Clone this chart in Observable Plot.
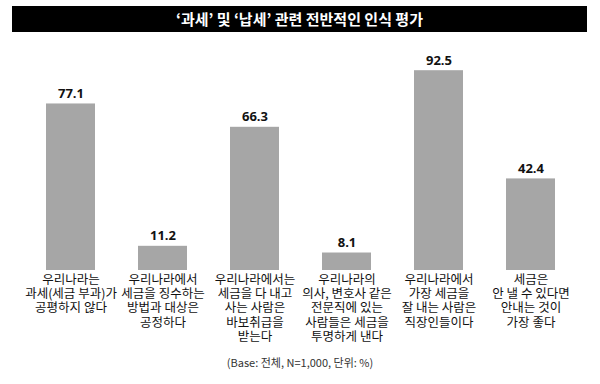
<!DOCTYPE html>
<html>
<head>
<meta charset="utf-8">
<script src="https://cdn.jsdelivr.net/npm/d3@7"></script>
<script src="https://cdn.jsdelivr.net/npm/@observablehq/plot@0.6"></script>
<style>
  html, body { margin: 0; padding: 0; background: #fff; }
  body { width: 600px; height: 384px; overflow: hidden; font-family: "Noto Sans CJK KR", "Noto Sans", sans-serif; }
  #title { margin: 6px 13px 0 12px; height: 26px; background: #000; color: #fff; font-weight: bold; font-size: 15px; line-height: 26px; text-align: center; }
  #chart svg { display: block; }
  #caption { height: 20px; line-height: 20px; font-size: 11px; color: #333; text-align: center; }
</style>
</head>
<body>
<div id="title">‘과세’ 및 ‘납세’ 관련 전반적인 인식 평가</div>
<div id="chart"></div>
<div id="caption">(Base: 전체, N=1,000, 단위: %)</div>
<script>
const categories = [
  "우리나라는\n과세(세금 부과)가\n공평하지 않다",
  "우리나라에서\n세금을 징수하는\n방법과 대상은\n공정하다",
  "우리나라에서는\n세금을 다 내고\n사는 사람은\n바보취급을\n받는다",
  "우리나라의\n의사, 변호사 같은\n전문직에 있는\n사람들은 세금을\n투명하게 낸다",
  "우리나라에서\n가장 세금을\n잘 내는 사람은\n직장인들이다",
  "세금은\n안 낼 수 있다면\n안내는 것이\n가장 좋다"
];
const values = [77.1, 11.2, 66.3, 8.1, 92.5, 42.4];

const data = categories.map((c, i) => ({category: c, value: values[i]}));

const chart = Plot.plot({
  width: 600,
  height: 320,
  marginTop: 22,
  marginBottom: 82,
  marginLeft: 0,
  marginRight: 0,
  style: {fontFamily: '"Noto Sans CJK KR", sans-serif', background: "#fff", color: "#111", overflow: "visible"},
  x: {domain: categories, padding: 0.47, label: null, axis: null},
  y: {domain: [0, 100], axis: null},
  marks: [
    Plot.barY(data, {x: "category", y: "value", fill: "#a6a6a6"}),
    Plot.text(data, {
      x: "category", y: "value", text: d => d.value.toFixed(1),
      dy: -10, lineAnchor: "middle", fontSize: 13, fontWeight: "bold", fill: "#111",
      fontFamily: '"Open Sans", sans-serif'
    }),
    Plot.text(data, {
      x: "category", y: 0, text: "category",
      lineAnchor: "top", dy: 3, fontSize: 12.5, lineHeight: 1.15, fill: "#111"
    })
  ]
});
document.getElementById("chart").appendChild(chart);
</script>
</body>
</html>
